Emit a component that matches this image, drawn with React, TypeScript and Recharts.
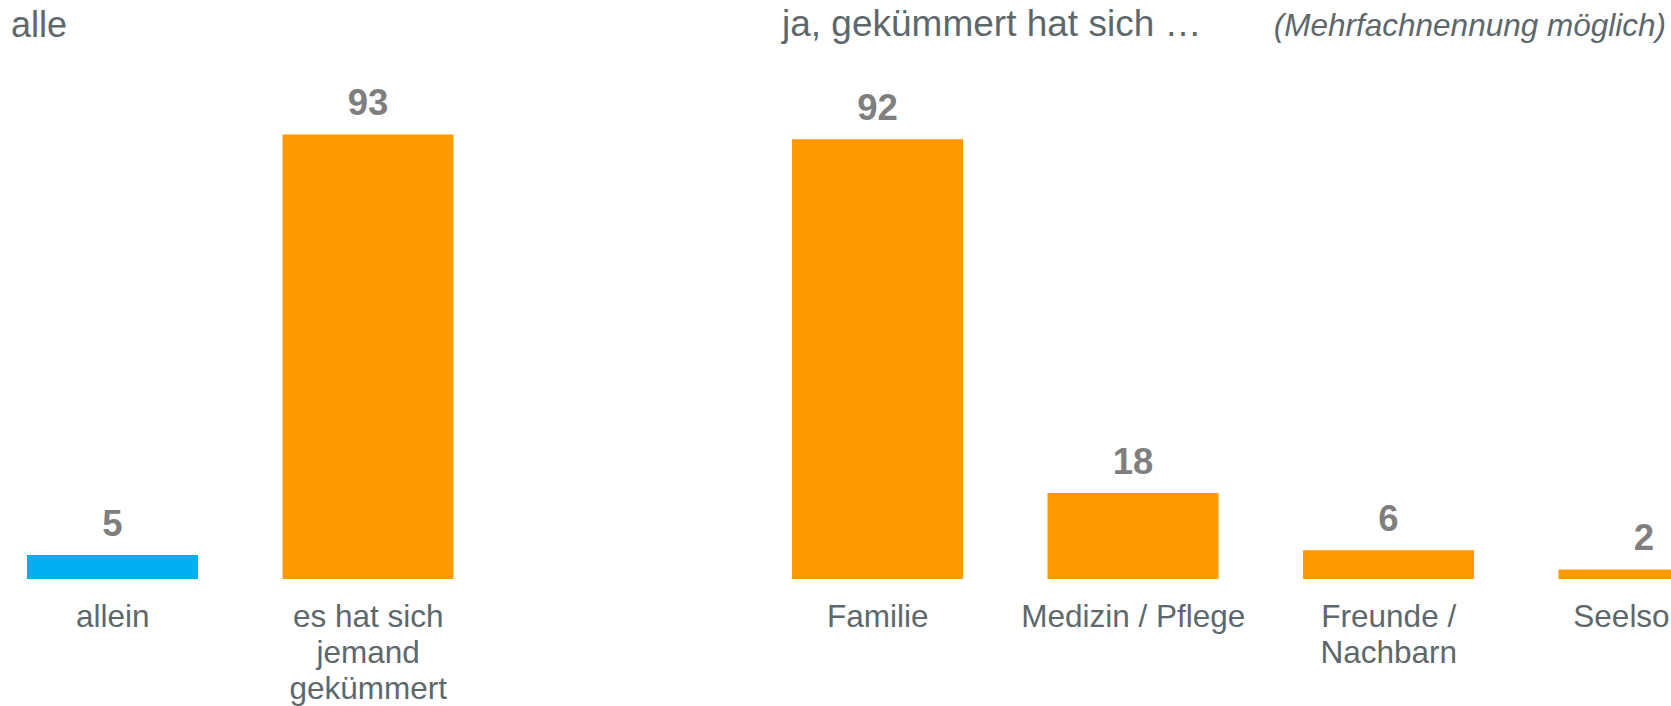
import { BarChart, Bar, XAxis, YAxis, Cell, LabelList } from "recharts";

const leftCategories = ["allein", "es hat sich\njemand\ngekümmert"];
const leftValues = [5, 93];
const leftColors = ["#00B0F0", "#FF9900"];

const rightCategories = ["Familie", "Medizin / Pflege", "Freunde /\nNachbarn", "Seelsorge"];
const rightValues = [92, 18, 6, 2];

const FONT = "'Liberation Sans', Arial, sans-serif";
const TEXT_GREY = "#5d686c";
const VALUE_GREY = "#7f7f7f";
const ORANGE = "#FF9900";

const leftData = leftCategories.map((name, i) => ({ name, value: leftValues[i] }));
const rightData = rightCategories.map((name, i) => ({ name, value: rightValues[i] }));

function CategoryTick({ x, y, payload }: { x?: number; y?: number; payload?: { value: string } }) {
  const lines = String(payload?.value ?? "").split("\n");
  return (
    <text x={x} y={y} textAnchor="middle" fill={TEXT_GREY} fontSize={31.5} fontFamily={FONT}>
      {lines.map((line, i) => (
        <tspan key={i} x={x} dy={i === 0 ? 48 : 36}>
          {line}
        </tspan>
      ))}
    </text>
  );
}

function Panel({ data, colors, width }: { data: { name: string; value: number }[]; colors: string[]; width: number }) {
  return (
    <BarChart width={width} height={706} data={data} margin={{ top: 101, right: 0, bottom: 0, left: 0 }}>
      <XAxis
        dataKey="name"
        height={127}
        axisLine={false}
        tickLine={false}
        tickSize={0}
        tickMargin={0}
        interval={0}
        tick={<CategoryTick />}
      />
      <YAxis hide domain={[0, 100]} />
      <Bar dataKey="value" barSize={171} isAnimationActive={false}>
        {data.map((d, i) => (
          <Cell key={d.name} fill={colors[i] ?? ORANGE} />
        ))}
        <LabelList
          dataKey="value"
          position="top"
          offset={19}
          fill={VALUE_GREY}
          fontSize={36.5}
          fontWeight="bold"
          fontFamily={FONT}
        />
      </Bar>
    </BarChart>
  );
}

export default function App() {
  return (
    <div
      style={{
        position: "absolute",
        left: 0,
        top: 0,
        width: 1671,
        height: 706,
        overflow: "hidden",
        background: "#fff",
        fontFamily: FONT,
      }}
    >
      <div style={{ position: "absolute", left: -15, top: 0 }}>
        <Panel data={leftData} colors={leftColors} width={511} />
      </div>
      <div style={{ position: "absolute", left: 750, top: 0 }}>
        <Panel data={rightData} colors={rightData.map(() => ORANGE)} width={1022} />
      </div>
      <svg width={1671} height={706} style={{ position: "absolute", left: 0, top: 0, pointerEvents: "none" }}>
        <text x={11} y={37} fill={TEXT_GREY} fontSize={36} fontFamily={FONT}>
          alle
        </text>
        <text x={782} y={36} fill={TEXT_GREY} fontSize={37} fontFamily={FONT}>
          ja, gekümmert hat sich …
        </text>
        <text x={1666} y={36} textAnchor="end" fill={TEXT_GREY} fontSize={31.5} fontStyle="italic" fontFamily={FONT}>
          (Mehrfachnennung möglich)
        </text>
      </svg>
    </div>
  );
}
